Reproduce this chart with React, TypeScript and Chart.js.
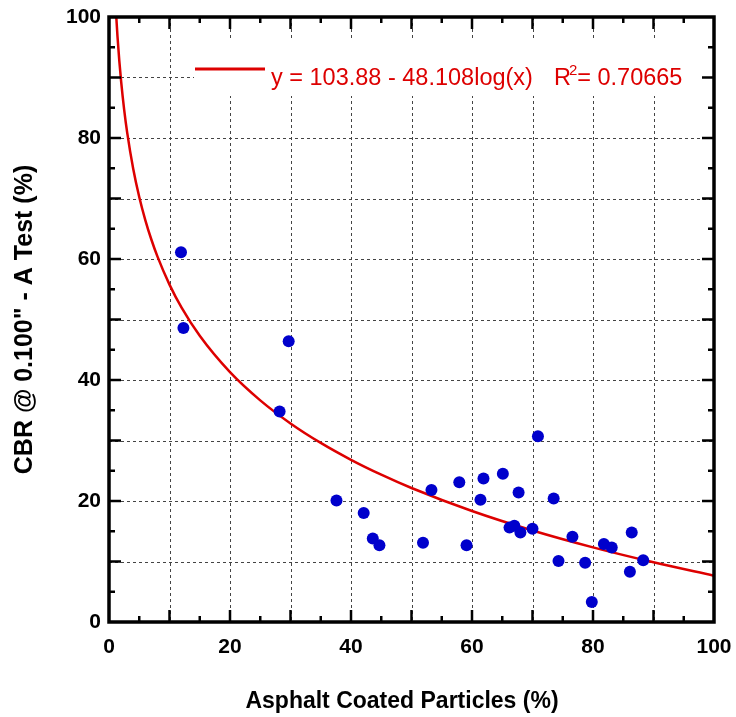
import React, { useEffect, useRef } from 'react';
import { Chart, registerables } from 'chart.js';

Chart.register(...registerables);

// Measured points: asphalt coated particles (%) vs CBR @ 0.100" (%)
const coatedParticles = [11.9, 12.3, 28.2, 29.7, 37.6, 42.1, 43.6, 44.7, 51.9, 53.3, 57.9, 59.1, 61.4, 61.9, 65.1, 66.2, 67.0, 67.7, 68.0, 70.0, 70.9, 73.5, 74.3, 76.6, 78.7, 79.8, 81.8, 83.1, 86.1, 86.4, 88.3];
const cbrValues = [61.1, 48.6, 34.8, 46.4, 20.1, 18.0, 13.8, 12.7, 13.1, 21.8, 23.1, 12.7, 20.2, 23.7, 24.5, 15.6, 15.9, 21.4, 14.8, 15.4, 30.7, 20.4, 10.1, 14.1, 9.8, 3.3, 12.9, 12.3, 8.3, 14.8, 10.2];

// Trend line y = 103.88 - 48.108 log(x)
const trendX = [1.2, 1.4, 1.7, 2, 2.5, 3, 4, 5, 6, 7, 8, 10, 12, 15, 20, 25, 30, 35, 40, 45, 50, 60, 70, 80, 90, 100];
const trendY = [100.1, 96.85, 92.79, 89.4, 84.74, 80.93, 74.92, 70.25, 66.44, 63.22, 60.43, 55.77, 51.96, 47.3, 41.29, 36.63, 32.82, 29.6, 26.81, 24.35, 22.15, 18.34, 15.12, 12.33, 9.87, 7.66];

const gridValues = [10, 20, 30, 40, 50, 60, 70, 80, 90];
const tickValues = [5, 10, 15, 20, 25, 30, 35, 40, 45, 50, 55, 60, 65, 70, 75, 80, 85, 90, 95];

const legendEquation = 'y = 103.88 - 48.108log(x)';
const legendR2Value = '= 0.70665';

const xTitle = 'Asphalt Coated Particles (%)';
const yTitle = 'CBR @ 0.100" - A Test (%)';

const FONT = "'Liberation Sans', Arial, Helvetica, sans-serif";
const RED = '#dd0000';
const BLUE = '#0000cc';

const decorPlugin = {
  id: 'decor',
  beforeDatasetsDraw(chart: any) {
    const { ctx, chartArea, scales } = chart;
    const { left, right, top, bottom } = chartArea;
    const x = scales.x;
    const y = scales.y;
    ctx.save();
    ctx.strokeStyle = '#444';
    ctx.lineWidth = 1;
    ctx.setLineDash([3, 3]);
    for (const v of gridValues) {
      const px = Math.round(x.getPixelForValue(v)) + 0.5;
      ctx.beginPath();
      ctx.moveTo(px, top);
      ctx.lineTo(px, bottom);
      ctx.stroke();
      const py = Math.round(y.getPixelForValue(v)) + 0.5;
      ctx.beginPath();
      ctx.moveTo(left, py);
      ctx.lineTo(right, py);
      ctx.stroke();
    }
    ctx.setLineDash([]);
    // legend background
    ctx.fillStyle = '#ffffff';
    ctx.fillRect(left + 85, top + 23, 507, 56);
    ctx.restore();
  },
  afterDatasetsDraw(chart: any) {
    const { ctx, chartArea, scales } = chart;
    const { left, right, top, bottom } = chartArea;
    const x = scales.x;
    const y = scales.y;
    ctx.save();
    ctx.strokeStyle = '#000';
    ctx.lineWidth = 2.5;
    for (const v of tickValues) {
      const len = v % 10 === 0 ? 12 : 6;
      const px = x.getPixelForValue(v);
      ctx.beginPath();
      ctx.moveTo(px, bottom);
      ctx.lineTo(px, bottom - len);
      ctx.moveTo(px, top);
      ctx.lineTo(px, top + len);
      ctx.stroke();
      const py = y.getPixelForValue(v);
      ctx.beginPath();
      ctx.moveTo(left, py);
      ctx.lineTo(left + len, py);
      ctx.moveTo(right, py);
      ctx.lineTo(right - len, py);
      ctx.stroke();
    }
    ctx.lineWidth = 3.5;
    ctx.strokeRect(left, top, right - left, bottom - top);
    ctx.restore();
  },
  afterDraw(chart: any) {
    const { ctx, chartArea } = chart;
    const { left, top, bottom } = chartArea;
    ctx.save();
    // x axis title
    ctx.fillStyle = '#000';
    ctx.textAlign = 'center';
    ctx.textBaseline = 'alphabetic';
    ctx.font = `bold 23px ${FONT}`;
    ctx.fillText(xTitle, left + 293, bottom + 86);
    // legend
    ctx.strokeStyle = RED;
    ctx.lineWidth = 3;
    ctx.beginPath();
    ctx.moveTo(left + 86, top + 52);
    ctx.lineTo(left + 156, top + 52);
    ctx.stroke();
    ctx.fillStyle = RED;
    ctx.textAlign = 'left';
    ctx.font = `23.5px ${FONT}`;
    let tx = left + 162;
    const ty = top + 68;
    ctx.fillText(legendEquation, tx, ty);
    tx += ctx.measureText(legendEquation).width + 21;
    ctx.fillText('R', tx, ty);
    tx += ctx.measureText('R').width;
    ctx.font = `15px ${FONT}`;
    ctx.fillText('2', tx - 2, ty - 10);
    tx += ctx.measureText('2').width - 2;
    ctx.font = `23.5px ${FONT}`;
    ctx.fillText(legendR2Value, tx, ty);
    ctx.restore();
  },
};

export default function App() {
  const canvasRef = useRef<HTMLCanvasElement | null>(null);

  useEffect(() => {
    const canvas = canvasRef.current;
    if (!canvas) return;
    const points = coatedParticles.map((v, i) => ({ x: v, y: cbrValues[i] }));
    const trend = trendX.map((v, i) => ({ x: v, y: trendY[i] }));
    const tickFont = { family: FONT, size: 21, weight: 'bold' as const };
    const chart = new Chart(canvas, {
      type: 'scatter',
      data: {
        datasets: [
          {
            label: 'CBR',
            data: points,
            pointRadius: 6,
            pointHoverRadius: 6,
            backgroundColor: BLUE,
            borderWidth: 0,
            showLine: false,
          },
          {
            label: 'trend',
            data: trend,
            showLine: true,
            borderColor: RED,
            borderWidth: 2.5,
            pointRadius: 0,
            fill: false,
            cubicInterpolationMode: 'monotone',
          } as any,
        ],
      },
      options: {
        animation: false,
        responsive: false,
        devicePixelRatio: 1,
        layout: { padding: { top: 17, right: 22, left: 0, bottom: 0 } },
        plugins: {
          legend: { display: false },
          tooltip: { enabled: false },
          title: { display: false },
        },
        scales: {
          x: {
            type: 'linear',
            min: 0,
            max: 100,
            ticks: { stepSize: 20, color: '#000', font: tickFont, padding: 13, maxRotation: 0 },
            grid: { display: false, drawTicks: false },
            border: { display: false },
            afterFit: (s: any) => {
              s.height = 95;
              s.paddingLeft = 0;
              s.paddingRight = 0;
            },
          },
          y: {
            type: 'linear',
            min: 0,
            max: 100,
            ticks: { stepSize: 20, color: '#000', font: tickFont, padding: 8 },
            grid: { display: false, drawTicks: false },
            border: { display: false },
            title: {
              display: true,
              text: yTitle,
              color: '#000',
              font: { family: FONT, size: 25, weight: 'bold' },
              padding: { top: 10, bottom: 0 },
            },
            afterFit: (s: any) => {
              s.width = 109;
              s.paddingTop = 0;
              s.paddingBottom = 0;
            },
          },
        },
      },
      plugins: [decorPlugin],
    });
    return () => chart.destroy();
  }, []);

  return (
    <div style={{ position: 'absolute', left: 0, top: 0, width: 736, height: 717, background: '#fff' }}>
      <canvas ref={canvasRef} width={736} height={717} />
    </div>
  );
}
